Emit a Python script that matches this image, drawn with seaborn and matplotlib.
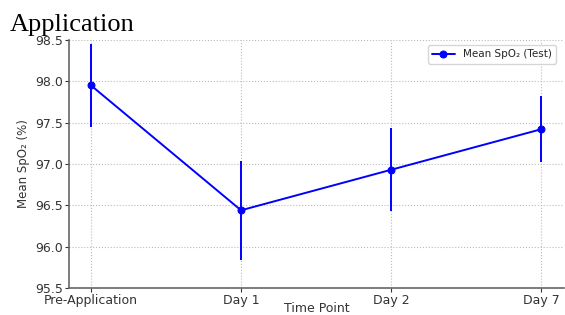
import pandas as pd
import numpy as np
import matplotlib
matplotlib.use('Agg')
import matplotlib.pyplot as plt
import seaborn as sns

# data
time_points = ['Pre-Application', 'Day 1', 'Day 2', 'Day 7']
mean_spo2 = [97.95, 96.44, 96.93, 97.42]
spo2_err = [0.50, 0.60, 0.50, 0.40]

df = pd.DataFrame({'time': time_points, 'mean': mean_spo2, 'err': spo2_err})
df['pos'] = np.arange(len(df))

sns.set_style('ticks')
plt.rcParams['font.family'] = ['DejaVu Sans']

fig = plt.figure(figsize=(5.65, 3.15), dpi=100)
ax = fig.add_axes([69 / 565, 27 / 315, 495 / 565, 248 / 315])

# error bars + line
ax.errorbar(df['pos'], df['mean'], yerr=df['err'], fmt='none', ecolor='blue', elinewidth=1.4, capsize=0)
sns.lineplot(data=df, x='pos', y='mean', ax=ax, color='blue', marker='o', markersize=5,
             markeredgecolor='blue', linewidth=1.4, label='Mean SpO₂ (Test)')

ax.set_xlim(-0.147, 3.153)
ax.set_ylim(95.5, 98.5)
ax.set_yticks(np.arange(95.5, 98.51, 0.5))
ax.set_xticks(df['pos'])
ax.set_xticklabels(time_points)
ax.tick_params(labelsize=9, colors='#333333', length=3, pad=1)
ax.set_xlabel('Time Point', fontsize=9, color='#333333', va='center')
ax.xaxis.set_label_coords(0.5, -0.081)
ax.set_ylabel('Mean SpO₂ (%)', fontsize=8.5, color='#333333')
ax.grid(True, linestyle=':', color='#bbbbbb', linewidth=0.8)
for s in ['top', 'right']:
    ax.spines[s].set_visible(False)
for s in ['left', 'bottom']:
    ax.spines[s].set_color('#666666')
    ax.spines[s].set_linewidth(1.2)

leg = ax.legend(loc='upper right', fontsize=7.5, frameon=True, borderpad=0.4,
                handlelength=2.2, bbox_to_anchor=(0.995, 1.0))
leg.get_frame().set_edgecolor('#cccccc')

# cropped title text from the original screenshot
fig.text(10 / 565, 1 - 31 / 315, 'Application', family='Liberation Serif', fontsize=19,
         va='baseline', ha='left', color='black')

fig.savefig('out.png', dpi=100)
